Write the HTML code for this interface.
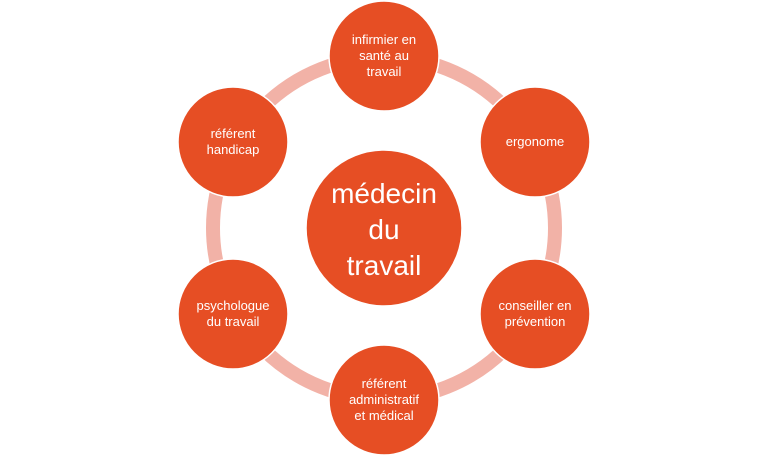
<!DOCTYPE html>
<html><head><meta charset="utf-8"><style>html,body{margin:0;padding:0;background:#fff;}svg{display:block}</style></head>
<body>
<svg width="768" height="457" viewBox="0 0 768 457" xmlns="http://www.w3.org/2000/svg" font-family="Liberation Sans, sans-serif" fill="#fff">
<circle cx="384" cy="228" r="171" fill="none" stroke="#f2b2a7" stroke-width="14"/>
<g fill="#e64e24" stroke="#fff" stroke-width="1.5">
<circle cx="384" cy="228" r="78"/>
<circle cx="384" cy="56" r="55"/>
<circle cx="535" cy="142" r="55"/>
<circle cx="535" cy="314" r="55"/>
<circle cx="384" cy="400" r="55"/>
<circle cx="233" cy="314" r="55"/>
<circle cx="233" cy="142" r="55"/>
</g>
<g text-anchor="middle" font-size="13" fill="#fff">
<text x="384" y="44">infirmier en</text>
<text x="384" y="60">santé au</text>
<text x="384" y="76">travail</text>
<text x="535" y="146">ergonome</text>
<text x="535" y="310">conseiller en</text>
<text x="535" y="326">prévention</text>
<text x="384" y="388">référent</text>
<text x="384" y="404">administratif</text>
<text x="384" y="420">et médical</text>
<text x="233" y="310">psychologue</text>
<text x="233" y="326">du travail</text>
<text x="233" y="138">référent</text>
<text x="233" y="154">handicap</text>
</g>
<g text-anchor="middle" font-size="28" fill="#fff">
<text x="384" y="203">médecin</text>
<text x="384" y="239">du</text>
<text x="384" y="275">travail</text>
</g>
</svg>
</body></html>
